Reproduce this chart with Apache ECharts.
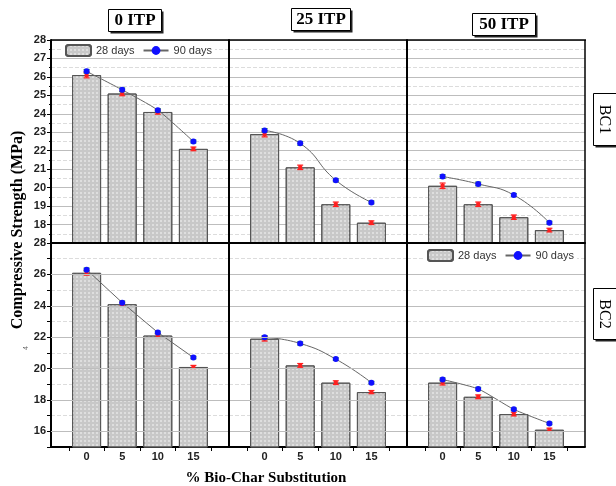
<!DOCTYPE html>
<html><head><meta charset="utf-8">
<script src="https://cdn.jsdelivr.net/npm/echarts@6/dist/echarts.min.js"></script>
<style>html,body{margin:0;padding:0;background:#fff}#c{width:616px;height:486px}</style>
</head><body><div id="c"></div>
<script>
// ---- data ----
const categories = [0, 5, 10, 15];
const columns = ['0 ITP', '25 ITP', '50 ITP'];
const rows = ['BC1', 'BC2'];
const bc1_itp0_28 = [26.1, 25.1, 24.1, 22.1];
const bc1_itp0_90 = [26.3, 25.3, 24.2, 22.5];
const bc1_itp25_28 = [22.9, 21.1, 19.1, 18.1];
const bc1_itp25_90 = [23.1, 22.4, 20.4, 19.2];
const bc1_itp50_28 = [20.1, 19.1, 18.4, 17.7];
const bc1_itp50_90 = [20.6, 20.2, 19.6, 18.1];
const bc2_itp0_28 = [26.1, 24.1, 22.1, 20.1];
const bc2_itp0_90 = [26.3, 24.2, 22.3, 20.7];
const bc2_itp25_28 = [21.9, 20.2, 19.1, 18.5];
const bc2_itp25_90 = [22.0, 21.6, 20.6, 19.1];
const bc2_itp50_28 = [19.1, 18.2, 17.1, 16.1];
const bc2_itp50_90 = [19.3, 18.7, 17.4, 16.5];
const err28 = [0.15, 0.12, 0.12, 0.1];
const err90 = [0.1, 0.1, 0.08, 0.08];
const yTicksTop = [17, 28, 1];      // min, max, step
const yTicksBottom = [15, 28, 1];
const yLabelsBottom = [16, 18, 20, 22, 24, 26, 28];

const panels = [
  [bc1_itp0_28, bc1_itp0_90, 0.2], [bc1_itp25_28, bc1_itp25_90, 0.5], [bc1_itp50_28, bc1_itp50_90, 0.5],
  [bc2_itp0_28, bc2_itp0_90, 0], [bc2_itp25_28, bc2_itp25_90, 0.5], [bc2_itp50_28, bc2_itp50_90, 0.2]
];

const lefts = [51, 229, 407], tops = [40, 243], W = 178, H = 203;
const grid = [], xAxis = [], yAxis = [], series = [];
const barStyle = {
  color: '#c8c8c8', borderColor: '#555', borderWidth: 1,
  decal: { symbol: 'circle', symbolSize: 1, color: 'rgba(255,255,255,0.55)', dashArrayX: [1.5, 1.5], dashArrayY: [1.5, 1.5], rotation: 0 }
};
function errRender(color, capColor, marker) {
  return function (params, api) {
    const x = api.value(0), y = api.value(1), e = api.value(2);
    const t = api.coord([x, y + e]), b = api.coord([x, y - e]), c = api.coord([x, y]);
    const w = 3;
    const ch = [
      { type: 'line', shape: { x1: t[0], y1: t[1], x2: b[0], y2: b[1] }, style: { stroke: color, lineWidth: 1.2 } },
      { type: 'line', shape: { x1: t[0] - w, y1: t[1], x2: t[0] + w, y2: t[1] }, style: { stroke: capColor, lineWidth: 1.2 } },
      { type: 'line', shape: { x1: b[0] - w, y1: b[1], x2: b[0] + w, y2: b[1] }, style: { stroke: color, lineWidth: 1.2 } }
    ];
    if (marker) ch.push({ type: 'rect', shape: { x: c[0] - 2, y: c[1] - 2, width: 4, height: 4 }, style: { fill: color } });
    return { type: 'group', children: ch };
  };
}

for (let r = 0; r < 2; r++) {
  for (let c = 0; c < 3; c++) {
    const i = r * 3 + c;
    grid.push({ left: lefts[c], top: tops[r], width: W, height: H + (r ? 1 : 0), show: false });
    xAxis.push({
      type: 'value', gridIndex: i, min: -5, max: 20, interval: 5,
      axisLine: { show: true, onZero: false, lineStyle: { color: '#000', width: 2 } },
      axisTick: { show: false },
      minorTick: { show: r === 1, splitNumber: 2, length: 4, lineStyle: { color: '#000' } },
      splitLine: { show: false },
      axisLabel: { show: r === 1, fontWeight: 'bold', fontSize: 11, color: '#222', fontFamily: 'Liberation Sans', margin: 4,
        formatter: v => categories.indexOf(v) >= 0 ? String(v) : '' }
    });
    const yt = r === 0 ? yTicksTop : yTicksBottom;
    yAxis.push({
      type: 'value', gridIndex: i, min: yt[0], max: yt[1], interval: yt[2],
      axisLine: { show: true, onZero: false, lineStyle: { color: '#000', width: 2 } },
      axisTick: { show: c === 0, length: 4, lineStyle: { color: '#000' } },
      minorTick: { show: c === 0 && r === 0, splitNumber: 2, length: 2, lineStyle: { color: '#000' } },
      splitLine: { show: true, lineStyle: { color: r === 0 ? '#bdbdbd' : '#dcdcdc', width: 1, type: r === 0 ? 'solid' : 'dashed' } },
      minorSplitLine: { show: r === 0, lineStyle: { color: '#dcdcdc', type: 'dashed' } },
      axisLabel: { show: c === 0, fontWeight: 'bold', fontSize: 11, color: '#222', fontFamily: 'Liberation Sans', margin: 5,
        formatter: v => r === 0 ? (v === yt[0] ? '' : String(v)) : (yLabelsBottom.indexOf(v) >= 0 ? String(v) : '') }
    });
    const [d28, d90, sm] = panels[i];
    if (r === 1) {
      series.push({ type: 'line', xAxisIndex: i, yAxisIndex: i, data: [], z: 1, silent: true,
        markLine: { silent: true, symbol: ['none', 'none'], label: { show: false },
          lineStyle: { color: '#bdbdbd', type: 'solid', width: 1 },
          data: yLabelsBottom.filter(v => v < 28).map(v => ({ yAxis: v })) } });
    }
    series.push({ name: '28 days', type: 'bar', xAxisIndex: i, yAxisIndex: i, barWidth: 29, z: 2, clip: true,
      data: categories.map((x, k) => [x, d28[k]]), itemStyle: barStyle });
    series.push({ type: 'custom', xAxisIndex: i, yAxisIndex: i, z: 3, renderItem: errRender('#ff2020', '#ff2020', true),
      encode: { x: 0, y: 1 }, data: categories.map((x, k) => [x, d28[k], err28[k]]) });
    series.push({ type: 'custom', xAxisIndex: i, yAxisIndex: i, z: 3, renderItem: errRender('#3a9a3a', '#2eaa2e', false),
      encode: { x: 0, y: 1 }, data: categories.map((x, k) => [x, d90[k], err90[k]]) });
    series.push({ name: '90 days', type: 'line', xAxisIndex: i, yAxisIndex: i, z: 4, smooth: sm,
      data: categories.map((x, k) => [x, d90[k]]), symbol: 'circle', symbolSize: 6,
      lineStyle: { color: '#666', width: 1 }, itemStyle: { color: '#1010ff' } });
  }
}

const legendCommon = { data: ['28 days', '90 days'], orient: 'horizontal', itemWidth: 25, itemHeight: 11, itemGap: 8,
  backgroundColor: '#fff', padding: [1, 3],
  textStyle: { fontSize: 11, color: '#333', fontFamily: 'Liberation Sans' } };

function headerBox(x, y, w, h, text) {
  return { type: 'group', left: x, top: y, children: [
    { type: 'rect', shape: { x: 2, y: 2, width: w, height: h }, style: { fill: '#222' } },
    { type: 'rect', shape: { x: 0, y: 0, width: w, height: h }, style: { fill: '#fff', stroke: '#000', lineWidth: 1 } },
    { type: 'text', x: w / 2, y: h / 2, style: { text: text, fill: '#000', font: 'bold 17px "Liberation Serif"', align: 'center', verticalAlign: 'middle' } }
  ] };
}
function sideBox(y, h, text) {
  return { type: 'group', left: 593, top: y, children: [
    { type: 'rect', shape: { x: 2, y: 2, width: 30, height: h }, style: { fill: '#222' } },
    { type: 'rect', shape: { x: 0, y: 0, width: 30, height: h }, style: { fill: '#fff', stroke: '#000', lineWidth: 1 } },
    { type: 'text', x: 11, y: h / 2, rotation: -Math.PI / 2, style: { text: text, fill: '#000', font: '16px "Liberation Serif"', align: 'center', verticalAlign: 'middle' } }
  ] };
}
function frameLine(x1, y1, x2, y2, w) {
  return { type: 'line', z: 100, silent: true, shape: { x1, y1, x2, y2 }, style: { stroke: '#000', lineWidth: w } };
}

const option = {
  animation: false,
  backgroundColor: '#fff',
  grid, xAxis, yAxis, series,
  legend: [
    Object.assign({ left: 62, top: 43 }, legendCommon),
    Object.assign({ left: 424, top: 248 }, legendCommon)
  ],
  graphic: [
    frameLine(51, 40, 586, 40, 1.5),
    frameLine(585, 40, 585, 447, 1.5),
    frameLine(229, 40, 229, 447, 2),
    frameLine(407, 40, 407, 447, 2),
    frameLine(51, 243, 585, 243, 2),
    headerBox(108, 9, 53, 22, columns[0]),
    headerBox(291, 8, 59, 22, columns[1]),
    headerBox(472, 13, 63, 22, columns[2]),
    sideBox(93, 52, rows[0]),
    sideBox(288, 51, rows[1]),
    { type: 'text', x: 18, y: 230, rotation: Math.PI / 2, style: { text: 'Compressive Strength (MPa)', fill: '#000', font: 'bold 16px "Liberation Serif"', align: 'center', verticalAlign: 'middle' } },
    { type: 'text', x: 266, y: 478, style: { text: '% Bio-Char Substitution', fill: '#000', font: 'bold 15px "Liberation Serif"', align: 'center', verticalAlign: 'middle' } },
    { type: 'text', x: 26, y: 348, rotation: Math.PI / 2, style: { text: '4', fill: '#666', font: '7px "Liberation Sans"', align: 'center', verticalAlign: 'middle' } }
  ]
};
const chart = echarts.init(document.getElementById('c'), null, { renderer: 'canvas' });
chart.setOption(option);
</script></body></html>
